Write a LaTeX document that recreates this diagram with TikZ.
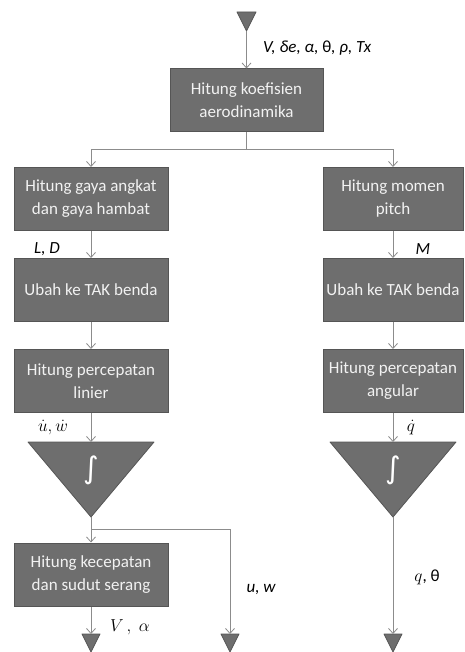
\documentclass[tikz,border=0pt]{standalone}
\usepackage{fontspec}
\setmainfont{Carlito}
\newfontfamily\symfont{DejaVu Sans}
\usepackage{amsmath}
\usepackage{tikz}
\usetikzlibrary{arrows.meta,positioning}

\definecolor{boxfill}{HTML}{6E6E6E}
\definecolor{boxline}{HTML}{555555}
\definecolor{wire}{HTML}{8C8C8C}
\definecolor{boxtext}{HTML}{F2F2F2}

\begin{document}
\begin{tikzpicture}[x=1pt, y=-1pt, font=\fontsize{17}{23}\selectfont, node distance=27pt,
  blk/.style={draw=boxline,line width=1pt,fill=boxfill,text=boxtext,align=center,minimum width=#1,minimum height=63pt,inner sep=0pt},
  blk/.default=154pt,
  tri/.style={fill=boxfill,draw=boxline,line width=0.8pt,line join=round},
  integ/.style={text=white,font=\symfont\fontsize{30}{32}\selectfont,inner sep=0pt},
  arr/.style={-{Straight Barb[length=5pt,width=9pt]},draw=wire,line width=0.8pt},
  lbl/.style={font=\fontsize{17}{20}\selectfont\itshape,inner sep=0pt}]
\useasboundingbox (0,0) rectangle (464,652);
% input and aerodynamic coefficients
\draw[tri] (237,12) -- (256,12) -- (246.5,31) -- cycle;
\coordinate (in) at (246.5,31);
\node[blk=153pt] (aero) at (246.5,100.5) {Hitung koefisien\\aerodinamika};
\node[lbl,anchor=west] (inlbl) at (263,48) {V, δe, α, {\upshape θ}, ρ, Tx};
\draw[arr] (in) -- (aero);
% left column: forces
\node[blk] (lift) at (91,199) {Hitung gaya angkat\\dan gaya hambat};
\node[blk, below=of lift] (bodyL) {Ubah ke TAK benda};
\node[blk, below=of bodyL] (accL) {Hitung percepatan\\linier};
% right column: moment
\node[blk=140pt] (mom) at (393,199) {Hitung momen\\pitch};
\node[blk=140pt, below=of mom] (bodyR) {Ubah ke TAK benda};
\node[blk=140pt, below=of bodyR] (accR) {Hitung percepatan\\angular};
\coordinate (split) at (246.5,149);
\draw[draw=wire,line width=0.8pt] (aero) -- (split);
\draw[arr] (split) -| (lift);
\draw[arr] (split) -| (mom);
\foreach \a/\b in {lift/bodyL,bodyL/accL,mom/bodyR,bodyR/accR} \draw[arr] (\a) -- (\b);
\node[lbl] (ldlbl) at (47,249) {L, D};
\node[lbl] (mlbl) at (423,249) {M};
% integrators
\draw[tri] (28,442) -- (154,442) -- (91,517) -- cycle;
\draw[tri] (330,442) -- (456,442) -- (393,517) -- cycle;
\node[integ] (intL) at (91,470) {∫};
\node[integ] (intR) at (393,470) {∫};
\coordinate (intLin) at (91,442);
\coordinate (intRin) at (393,442);
\coordinate (intLout) at (91,517);
\coordinate (intRout) at (393,517);
\draw[arr] (accL) -- (intLin);
\draw[arr] (accR) -- (intRin);
\node[inner sep=0pt,font=\fontsize{17}{20}\selectfont] (udlbl) at (53,428) {$\dot u, \dot w$};
\node[inner sep=0pt,font=\fontsize{17}{20}\selectfont] (qdlbl) at (411,428) {$\dot q$};
% velocity and angle of attack
\node[blk] (kec) at (91,574.5) {Hitung kecepatan\\dan sudut serang};
\coordinate (branch) at (91,529);
\draw[draw=wire,line width=0.8pt] (intLout) -- (branch);
\draw[arr] (branch) -- (kec);
% outputs
\foreach \n/\x in {outV/91,outU/230,outQ/393} {
  \draw[tri] (\x-9,634) -- (\x+9,634) -- (\x,652) -- cycle;
  \coordinate (\n) at (\x,634);
}
\draw[arr] (kec) -- (outV);
\draw[arr] (branch) -| (outU);
\draw[arr] (intRout) -- (outQ);
\node[inner sep=0pt,font=\fontsize{17}{20}\selectfont] (valbl) at (130,627) {$V\,,\;\alpha$};
\node[lbl] (uwlbl) at (261,590) {u, w};
\node[inner sep=0pt,font=\fontsize{17}{20}\selectfont] (qtlbl) at (427,577) {$q$, θ};
\end{tikzpicture}
\end{document}
